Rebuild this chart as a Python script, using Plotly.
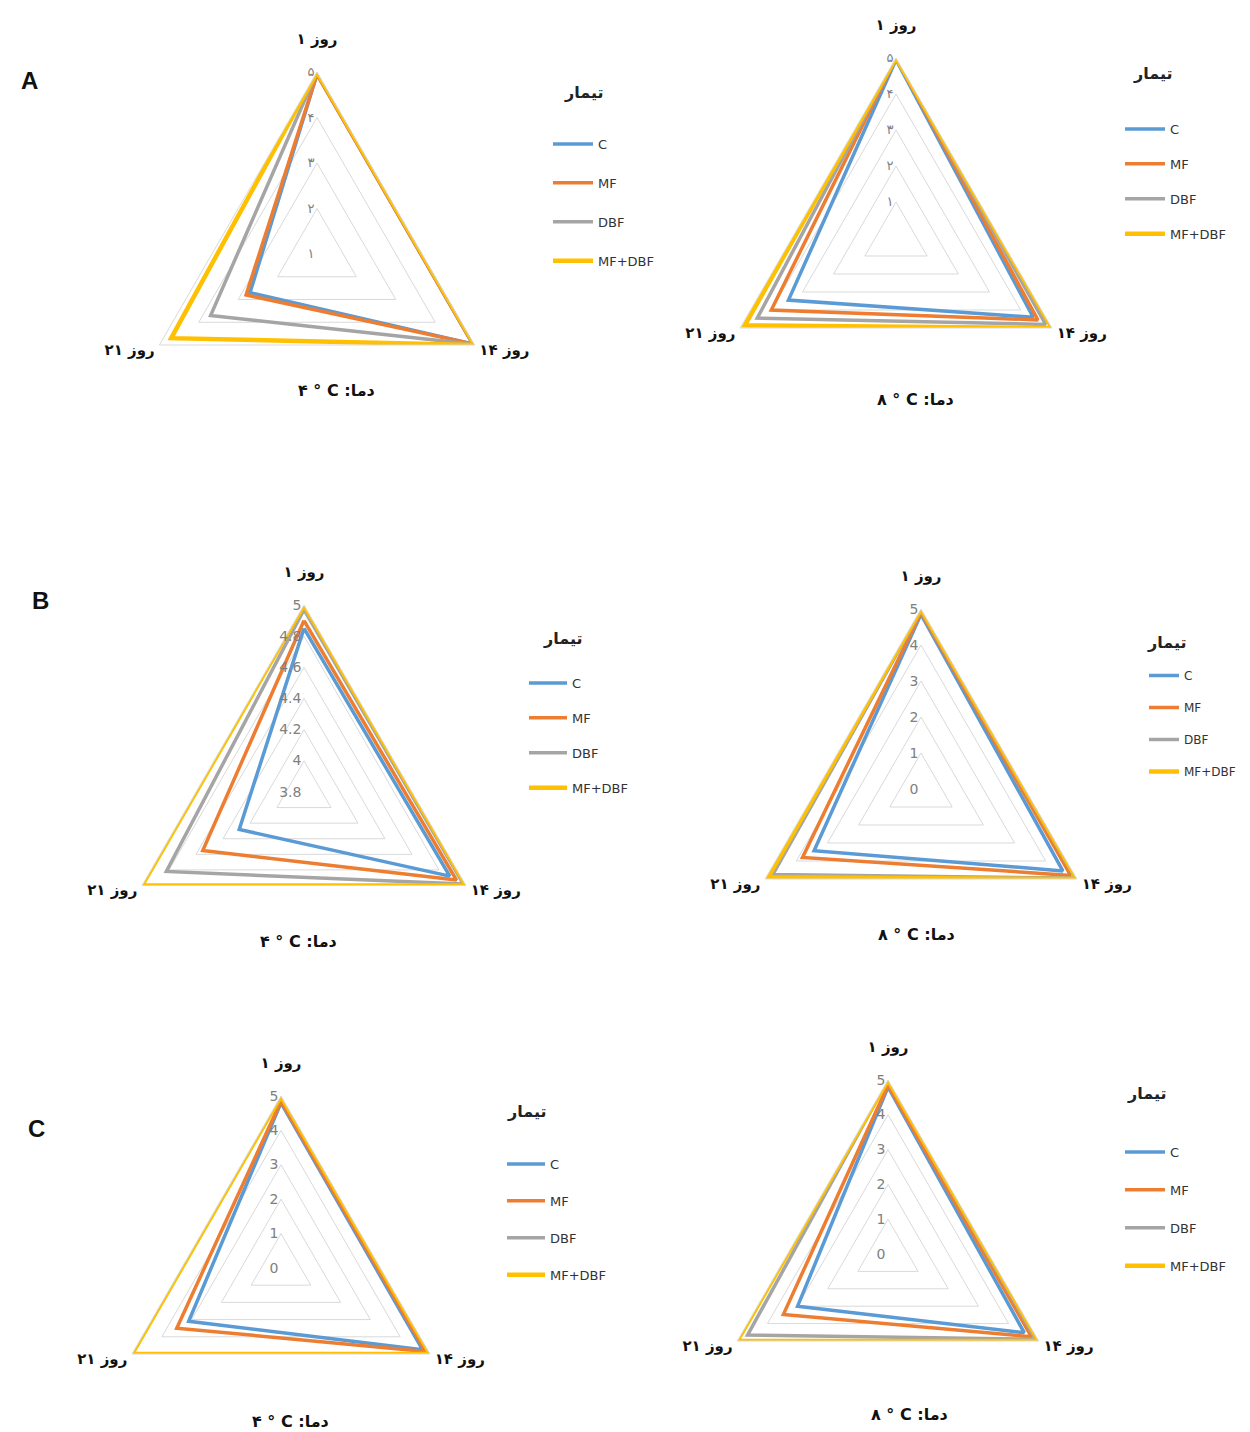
import plotly.graph_objects as go

W, H = 1250, 1432

days = ["روز ۱", "روز ۱۴", "روز ۲۱"]
series_names = ["C", "MF", "DBF", "MF+DBF"]
colors = ["#5B9BD5", "#ED7D31", "#A5A5A5", "#FFC000"]
widths = [3.5, 3.5, 3.5, 4.5]

# values ordered as [day 1, day 14, day 21]
A4_C = [4.95, 4.95, 2.7]
A4_MF = [4.95, 4.95, 2.8]
A4_DBF = [5.0, 4.97, 3.7]
A4_MFDBF = [5.0, 5.0, 4.7]

A8_C = [4.95, 4.4, 3.45]
A8_MF = [5.0, 4.55, 4.0]
A8_DBF = [5.0, 4.8, 4.45]
A8_MFDBF = [5.0, 5.0, 4.85]

B4_C = [4.85, 4.88, 4.28]
B4_MF = [4.9, 4.93, 4.55]
B4_DBF = [4.97, 4.98, 4.82]
B4_MFDBF = [5.0, 5.0, 5.0]

B8_C = [4.85, 4.55, 3.43]
B8_MF = [4.9, 4.8, 3.8]
B8_DBF = [4.95, 4.95, 4.75]
B8_MFDBF = [5.0, 5.0, 4.9]

C4_C = [4.8, 4.75, 3.1]
C4_MF = [4.85, 4.85, 3.5]
C4_DBF = [5.0, 5.0, 5.0]
C4_MFDBF = [5.0, 5.0, 5.0]

C8_C = [4.8, 4.52, 3.0]
C8_MF = [4.85, 4.76, 3.47]
C8_DBF = [5.0, 4.9, 4.66]
C8_MFDBF = [5.0, 5.0, 5.0]

ticks_fa_vals = [1, 2, 3, 4, 5]
ticks_fa_text = ["۱", "۲", "۳", "۴", "۵"]
ticks_b4_vals = [3.8, 4.0, 4.2, 4.4, 4.6, 4.8, 5.0]
ticks_b4_text = ["3.8", "4", "4.2", "4.4", "4.6", "4.8", "5"]
ticks_05_vals = [0, 1, 2, 3, 4, 5]
ticks_05_text = ["0", "1", "2", "3", "4", "5"]

legend_title = "تیمار"
caption_4 = "۴ ° C :دما"
caption_8 = "۸ ° C :دما"

panels = [
    dict(data=[A4_C, A4_MF, A4_DBF, A4_MFDBF], rng=[1, 5], tv=ticks_fa_vals, tt=ticks_fa_text,
         c=(309, 246), R=182, line0=(546, 133), gap=19, iw=40, lfs=13, ttl=(575, 85),
         cap=caption_4, cp=(328, 383), tfs=13),
    dict(data=[A8_C, A8_MF, A8_DBF, A8_MFDBF], rng=[0, 5], tv=ticks_fa_vals, tt=ticks_fa_text,
         c=(888, 230), R=180, line0=(1118, 118), gap=15, iw=40, lfs=13, ttl=(1144, 66),
         cap=caption_8, cp=(907, 391), tfs=13),
    dict(data=[B4_C, B4_MF, B4_DBF, B4_MFDBF], rng=[3.8, 5], tv=ticks_b4_vals, tt=ticks_b4_text,
         c=(296, 784), R=187, line0=(522, 672), gap=15, iw=38, lfs=13, ttl=(554, 631),
         cap=caption_4, cp=(290, 933), tfs=14),
    dict(data=[B8_C, B8_MF, B8_DBF, B8_MFDBF], rng=[0, 5], tv=ticks_05_vals, tt=ticks_05_text,
         c=(913, 781), R=180, line0=(1142, 665), gap=13, iw=30, lfs=12, ttl=(1158, 635),
         cap=caption_8, cp=(908, 926), tfs=14),
    dict(data=[C4_C, C4_MF, C4_DBF, C4_MFDBF], rng=[0, 5], tv=ticks_05_vals, tt=ticks_05_text,
         c=(273, 1260), R=172, line0=(500, 1153), gap=17, iw=38, lfs=13, ttl=(518, 1103),
         cap=caption_4, cp=(282, 1413), tfs=14),
    dict(data=[C8_C, C8_MF, C8_DBF, C8_MFDBF], rng=[0, 5], tv=ticks_05_vals, tt=ticks_05_text,
         c=(880, 1246), R=174, line0=(1118, 1141), gap=18, iw=40, lfs=13, ttl=(1138, 1085),
         cap=caption_8, cp=(901, 1406), tfs=14),
]

fig = go.Figure()
layout = {}
annotations = []
FONT = "DejaVu Sans"


def clamp01(v):
    return max(0.0, min(1.0, v))


for i, p in enumerate(panels):
    pid = "polar" if i == 0 else f"polar{i+1}"
    lid = "legend" if i == 0 else f"legend{i+1}"
    for j, vals in enumerate(p["data"]):
        fig.add_trace(go.Scatterpolar(
            r=list(vals) + [vals[0]],
            theta=days + [days[0]],
            mode="lines",
            name=series_names[j],
            line=dict(color=colors[j], width=widths[j]),
            subplot=pid,
            legend=lid,
            legendgroup=f"g{i}_{j}",
            hoverinfo="skip",
        ))
    cx, cy = p["c"]
    R = min(p["R"], H - cy, cy, cx, W - cx)
    layout[pid] = dict(
        domain=dict(x=[clamp01((cx - R) / W), clamp01((cx + R) / W)],
                    y=[clamp01(1 - (cy + R) / H), clamp01(1 - (cy - R) / H)]),
        gridshape="linear",
        bgcolor="white",
        radialaxis=dict(range=p["rng"], tickvals=p["tv"], ticktext=p["tt"], angle=90,
                        side="counterclockwise", tickangle=90,
                        showline=False, ticks="", gridcolor="#D9D9D9", gridwidth=1,
                        tickfont=dict(family=FONT, size=p["tfs"], color="#808080")),
        angularaxis=dict(rotation=90, direction="clockwise", showgrid=False,
                         showline=True, linecolor="#D9D9D9", linewidth=1,
                         type="category", categoryarray=days,
                         tickmode="array", tickvals=days, ticktext=[d + "<br> " for d in days],
                         ticks="outside", ticklen=2, tickcolor="rgba(0,0,0,0)",
                         tickfont=dict(family=FONT, size=15, color="#111111", weight="bold")),
    )
    lx, ly = p["line0"]
    layout[lid] = dict(
        x=(lx - 6) / W, y=1 - (ly - 12) / H, xanchor="left", yanchor="top",
        bgcolor="rgba(0,0,0,0)", tracegroupgap=p["gap"], itemwidth=p["iw"],
        font=dict(family=FONT, size=p["lfs"], color="#333333"),
    )
    annotations.append(dict(x=p["ttl"][0] / W, y=1 - p["ttl"][1] / H, xref="paper", yref="paper",
                            text=legend_title, showarrow=False, xanchor="center", yanchor="middle",
                            font=dict(family=FONT, size=16, color="#222222", weight="bold")))
    annotations.append(dict(x=p["cp"][0] / W, y=1 - p["cp"][1] / H,
                            xref="paper", yref="paper", xanchor="center", yanchor="middle",
                            text=p["cap"], showarrow=False,
                            font=dict(family=FONT, size=16, color="#111111", weight="bold")))

for letter, (lx, ly) in zip(["A", "B", "C"], [(21, 72), (32, 592), (29, 1120)]):
    annotations.append(dict(x=lx / W, y=1 - ly / H, xref="paper", yref="paper", text=letter,
                            showarrow=False, xanchor="center", yanchor="middle",
                            font=dict(family="Liberation Sans", size=24, color="#111111", weight="bold")))

fig.update_layout(width=W, height=H, margin=dict(l=0, r=0, t=0, b=0),
                  paper_bgcolor="white", plot_bgcolor="white",
                  annotations=annotations, **layout)

fig.write_html("out.html")
